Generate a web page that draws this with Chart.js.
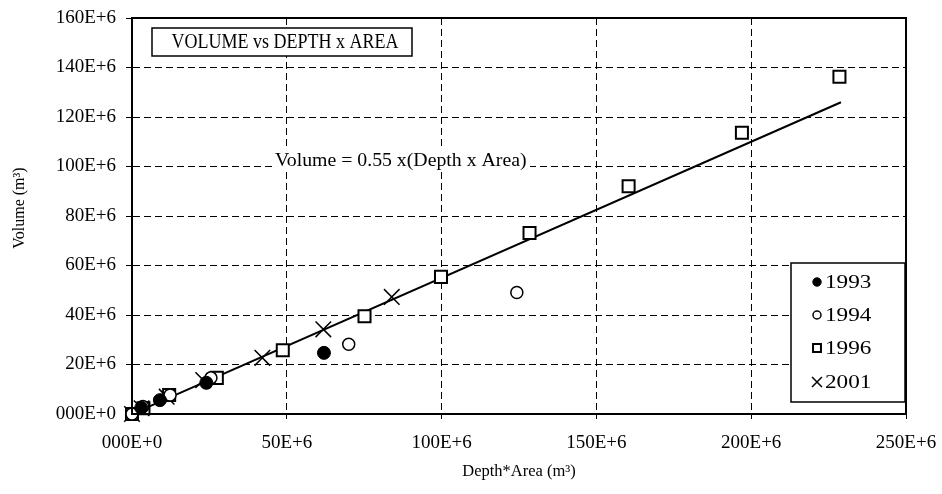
<!DOCTYPE html>
<html>
<head>
<meta charset="utf-8">
<script src="https://cdn.jsdelivr.net/npm/chart.js@4/dist/chart.umd.min.js"></script>
<style>
  html, body { margin: 0; padding: 0; background: #fff; }
  #wrap { width: 942px; height: 494px; position: relative; }
</style>
</head>
<body>
<div id="wrap"><canvas id="chart"></canvas></div>
<script>
// data, values in millions (E+6)
const x1993 = [3, 9, 24, 62];
const y1993 = [2.5, 5.6, 12.6, 24.7];

const x1994 = [0, 3.5, 12.3, 25.5, 70, 124.3];
const y1994 = [0, 3, 7.7, 14.6, 28.2, 49.1];

const x1996 = [0, 3.7, 12, 27.4, 48.7, 75.1, 99.8, 128.4, 160.4, 197, 228.5];
const y1996 = [0, 2.3, 7.7, 14.6, 25.8, 39.5, 55.4, 73.1, 92, 113.6, 136.3];

const x2001 = [0, 3.1, 11.2, 23, 42.1, 61.8, 83.9];
const y2001 = [0, 2.3, 7, 13.7, 22.7, 34.2, 47.3];

const fitX = [0, 229];
const fitSlope = 0.55;

const xTicks = [0, 50, 100, 150, 200, 250];
const yTicks = [0, 20, 40, 60, 80, 100, 120, 140, 160];

const seriesNames = ['1993', '1994', '1996', '2001'];
const titleText = 'VOLUME vs DEPTH x AREA';
const fitLabel = 'Volume = 0.55 x(Depth x Area)';
const yTitle = 'Volume (m³)';
const xTitle = 'Depth*Area (m³)';

const FONT = '"Liberation Serif", "Times New Roman", serif';

function pts(xs, ys) {
    return xs.map((x, i) => ({ x: x, y: ys[i] }));
}

function fmt(v) {
    return v === 0 ? '000E+0' : v + 'E+6';
}

const datasets = [
    { label: seriesNames[0], data: pts(x1993, y1993), pointStyle: 'circle', pointRadius: 6.5,
      backgroundColor: '#000', borderColor: '#000', borderWidth: 1, legendRadius: 4.2, clip: false },
    { label: seriesNames[1], data: pts(x1994, y1994), pointStyle: 'circle', pointRadius: 6,
      backgroundColor: '#fff', borderColor: '#000', borderWidth: 1.5, legendRadius: 4, clip: false },
    { label: seriesNames[2], data: pts(x1996, y1996), pointStyle: 'rect', pointRadius: 8.5,
      backgroundColor: '#fff', borderColor: '#000', borderWidth: 2, legendRadius: 5.6, clip: false },
    { label: seriesNames[3], data: pts(x2001, y2001), pointStyle: 'crossRot', pointRadius: 11,
      backgroundColor: '#000', borderColor: '#000', borderWidth: 1.5, legendRadius: 7, clip: false },
    { label: 'fit', type: 'line', data: fitX.map(x => ({ x: x, y: x * fitSlope })),
      borderColor: '#000', borderWidth: 2, pointRadius: 0, fill: false, order: 10 }
];

// text stretched sideways like the original
function stretchText(ctx, text, x, y, size, sx, align) {
    ctx.save();
    ctx.font = size + 'px ' + FONT;
    ctx.textBaseline = 'middle';
    ctx.textAlign = 'left';
    const w = ctx.measureText(text).width * sx;
    let left = x;
    if (align === 'center') left = x - w / 2;
    ctx.translate(left, y);
    ctx.scale(sx, 1);
    ctx.fillText(text, 0, 0);
    ctx.restore();
    return w;
}

// frame, title box, fit label and legend box
const extras = {
    id: 'extras',
    afterDatasetsDraw(chart) {
        const ctx = chart.ctx;
        const a = chart.chartArea;
        ctx.save();

        // outer frame of the plot
        ctx.strokeStyle = '#000';
        ctx.lineWidth = 2;
        ctx.strokeRect(a.left, a.top, a.right - a.left, a.bottom - a.top);

        // y axis title
        ctx.save();
        ctx.translate(20, 208);
        ctx.rotate(-Math.PI / 2);
        ctx.fillStyle = '#000';
        ctx.font = '16px ' + FONT;
        ctx.textAlign = 'center';
        ctx.textBaseline = 'middle';
        ctx.fillText(yTitle, 0, 0);
        ctx.restore();

        // title box
        ctx.fillStyle = '#fff';
        ctx.fillRect(152, 28, 260, 28);
        ctx.lineWidth = 1.5;
        ctx.strokeRect(152, 28, 260, 28);
        ctx.fillStyle = '#000';
        stretchText(ctx, titleText, 285, 43, 20, 0.9, 'center');

        // fit label with white backing
        ctx.fillStyle = '#fff';
        ctx.fillRect(272, 150, 258, 20);
        ctx.fillStyle = '#000';
        stretchText(ctx, fitLabel, 275, 161, 18.5, 1.07, 'left');

        // legend
        ctx.fillStyle = '#fff';
        ctx.fillRect(791, 263, 114, 139);
        ctx.strokeStyle = '#000';
        ctx.lineWidth = 1.5;
        ctx.strokeRect(791, 263, 114, 139);
        const rows = [282, 315, 348, 382];
        chart.data.datasets.slice(0, 4).forEach((ds, i) => {
            ctx.strokeStyle = ds.borderColor;
            ctx.fillStyle = ds.backgroundColor;
            ctx.lineWidth = ds.borderWidth;
            Chart.helpers.drawPoint(ctx, { pointStyle: ds.pointStyle, radius: ds.legendRadius, rotation: 0,
                borderWidth: ds.borderWidth }, 817, rows[i]);
            ctx.fillStyle = '#000';
            stretchText(ctx, ds.label, 825, rows[i] + 1, 19, 1.22, 'left');
        });
        ctx.restore();
    }
};

new Chart(document.getElementById('chart'), {
    type: 'scatter',
    data: { datasets: datasets },
    options: {
        responsive: true,
        maintainAspectRatio: false,
        animation: false,
        layout: { padding: { left: 0, right: 36, top: 18, bottom: 0 } },
        plugins: { legend: { display: false }, tooltip: { enabled: false } },
        scales: {
            x: {
                type: 'linear',
                min: 0, max: 250,
                afterFit: s => { s.height = 80; s.paddingLeft = 0; s.paddingRight = 0; },
                afterBuildTicks: s => { s.ticks = xTicks.map(v => ({ value: v })); },
                ticks: {
                    color: '#000', padding: 13,
                    font: { family: FONT, size: 19 },
                    callback: v => fmt(v)
                },
                grid: { color: '#000', lineWidth: 1, drawTicks: true, tickLength: 5 },
                border: { color: '#000', width: 2, dash: [7, 4] },
                title: { display: true, text: xTitle, color: '#000',
                         font: { family: FONT, size: 16.5 }, padding: { top: 0, bottom: 12 } }
            },
            y: {
                type: 'linear',
                min: 0, max: 160,
                afterFit: s => { s.width = 132; s.paddingTop = 0; s.paddingBottom = 0; },
                afterBuildTicks: s => { s.ticks = yTicks.map(v => ({ value: v })); },
                ticks: {
                    color: '#000', padding: 10,
                    font: { family: FONT, size: 19 },
                    callback: v => fmt(v)
                },
                grid: { color: '#000', lineWidth: 1, drawTicks: true, tickLength: 6 },
                border: { color: '#000', width: 2, dash: [7, 4] },
                title: { display: false }
            }
        }
    },
    plugins: [extras]
});
</script>
</body>
</html>
